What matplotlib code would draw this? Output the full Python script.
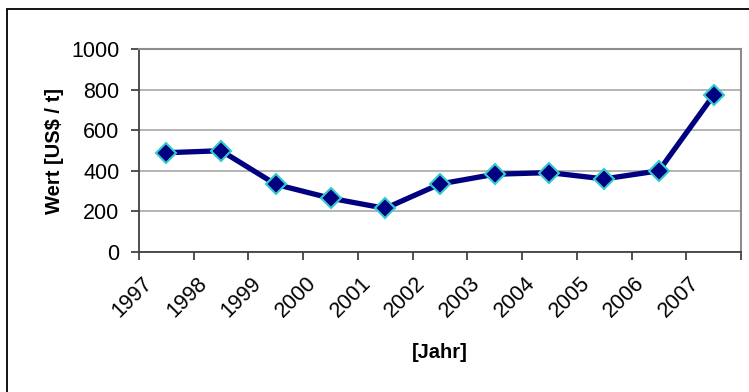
import matplotlib
matplotlib.use("Agg")
import matplotlib.pyplot as plt
import matplotlib.transforms as mtransforms
from matplotlib.patches import Rectangle
import numpy as np

# Werte pro Jahr (US$ / t)
jahre = ['1997', '1998', '1999', '2000', '2001', '2002', '2003', '2004', '2005', '2006', '2007']
wert = [489, 499, 333, 265, 215, 335, 383, 391, 360, 400, 773]

plt.rcParams['font.family'] = ['Liberation Sans', 'DejaVu Sans']

fig = plt.figure(figsize=(7.49, 3.92), dpi=100)
W, H = 749, 392
ax = fig.add_axes([139 / W, 1 - 252 / H, (741 - 139) / W, (252 - 49) / H])

x = np.arange(len(jahre))
ax.plot(x, wert, color='#000080', lw=3.8, marker='D', ms=10.5,
        mfc='#000080', mec='#33CCCC', mew=1.5, zorder=3, clip_on=False)

ax.set_xlim(-0.5, len(jahre) - 0.5)
ax.set_ylim(0, 1000)
ax.set_yticks(range(0, 1001, 200))
ax.yaxis.grid(True, color='#a0a0a0', lw=1.1)
ax.set_axisbelow(True)

# Teilstriche an den Kategoriegrenzen, Beschriftung in der Mitte
ax.set_xticks(x)
ax.set_xticks(np.arange(-0.5, len(jahre)), minor=True)
ax.tick_params(axis='x', which='major', length=0, pad=15)
ax.tick_params(axis='x', which='minor', length=6, width=1.2, color='#333333')
ax.tick_params(axis='y', length=6, width=1.2, color='#333333', pad=8)
ax.set_xticklabels(jahre, rotation=45, ha='right', va='top', fontsize=15.5)
shift = mtransforms.ScaledTranslation(-10 / 100, 0, fig.dpi_scale_trans)
for lbl in ax.get_xticklabels():
    lbl.set_transform(lbl.get_transform() + shift)
for lbl in ax.get_yticklabels():
    lbl.set_fontsize(15.5)

for s in ['left', 'bottom']:
    ax.spines[s].set_color('#404040')
    ax.spines[s].set_linewidth(1.3)
for s in ['top', 'right']:
    ax.spines[s].set_color('#8c8c8c')
    ax.spines[s].set_linewidth(1.5)

ax.set_ylabel('Wert [US$ / t]', fontsize=14.5, fontweight='bold', labelpad=5)
fig.text(440 / W, 1 - 352 / H, '[Jahr]', fontsize=14.5, fontweight='bold',
         ha='center', va='center')

# Rahmen um das Diagramm
fig.patches.append(Rectangle((7 / W, -0.1), 1.2, 1 - 9 / H + 0.1, transform=fig.transFigure,
                             fill=False, ec='black', lw=1.3))

fig.savefig('out.png', dpi=100)
